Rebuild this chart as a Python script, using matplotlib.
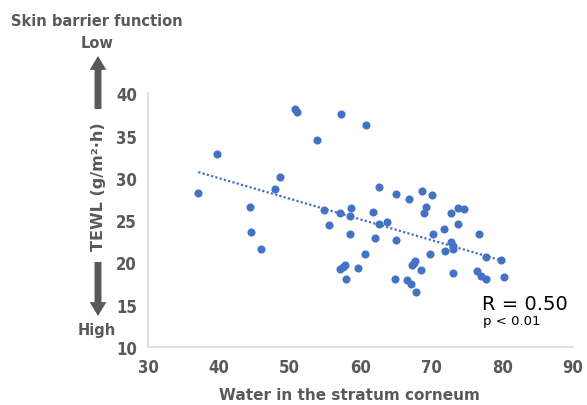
import numpy as np
import matplotlib
matplotlib.use('Agg')
import matplotlib.pyplot as plt

# ---------------------------------------------
#  Data
# ---------------------------------------------
water = [37.1, 39.8, 44.4, 44.6, 46.0, 47.9, 48.6, 50.8, 51.0, 53.9,
         57.3, 60.8, 54.8, 57.1, 58.7, 58.5, 55.6, 58.5, 60.7, 57.1,
         57.5, 57.8, 59.7, 58.0, 64.9, 66.6, 67.1, 67.8, 67.3, 67.5,
         67.7, 68.6, 69.8, 62.6, 65.0, 66.8, 68.7, 70.1, 69.2, 69.0,
         72.8, 73.7, 74.6, 73.7, 71.8, 76.8, 70.2, 72.8, 73.0, 73.1,
         72.0, 73.0, 77.7, 79.8, 80.3, 76.5, 77.0, 77.7, 65.0, 62.0,
         61.7, 62.6, 63.7]
tewl = [28.2, 32.8, 26.6, 23.6, 21.6, 28.7, 30.1, 38.2, 37.8, 34.5,
        37.5, 36.3, 26.2, 25.9, 26.4, 25.5, 24.4, 23.4, 21.0, 19.2,
        19.5, 19.7, 19.3, 18.0, 18.0, 17.9, 17.4, 16.5, 19.7, 19.9,
        20.2, 19.1, 21.0, 28.9, 28.1, 27.5, 28.4, 28.0, 26.5, 25.8,
        25.9, 26.4, 26.3, 24.5, 24.0, 23.4, 23.4, 22.4, 22.0, 21.6,
        21.4, 18.8, 20.7, 20.3, 18.3, 19.0, 18.4, 18.0, 22.6, 22.9,
        26.0, 24.5, 24.8]

x_ticks = [30, 40, 50, 60, 70, 80, 90]
y_ticks = [10, 15, 20, 25, 30, 35, 40]

blue = '#4472C4'
grey = '#595959'

# ---------------------------------------------
#  Figure
# ---------------------------------------------
fig = plt.figure(figsize=(5.87, 4.06), dpi=100)
ax = fig.add_axes([0.2521, 0.1429, 0.7240, 0.6248])

ax.scatter(water, tewl, s=34, color=blue, zorder=3, linewidths=0)

# linear trend line (dotted)
coef = np.polyfit(water, tewl, 1)
xs = np.array([min(water), max(water)])
ax.plot(xs, np.polyval(coef, xs), linestyle=(0, (1, 1)), color=blue, linewidth=1.6)

ax.set_xlim(30, 90)
ax.set_ylim(10, 40)
ax.set_xticks(x_ticks)
ax.set_yticks(y_ticks)
ax.tick_params(length=0, colors=grey)
ax.tick_params(axis='x', pad=8)
ax.tick_params(axis='y', pad=8)
for lab in ax.get_xticklabels() + ax.get_yticklabels():
    lab.set_family('DejaVu Sans')
    lab.set_stretch('condensed')
    lab.set_fontweight('bold')
    lab.set_fontsize(12)
    lab.set_color(grey)

for side in ['top', 'right']:
    ax.spines[side].set_visible(False)
for side in ['left', 'bottom']:
    ax.spines[side].set_color('#D9D9D9')
    ax.spines[side].set_linewidth(1.2)

# ---------------------------------------------
#  Labels and arrows
# ---------------------------------------------
fig.text(0.596, 0.025, 'Water in the stratum corneum', ha='center', va='center',
         fontsize=11, fontweight='bold', color=grey)
fig.text(0.167, 0.539, 'TEWL (g/m²·h)', rotation=90, ha='center', va='center',
         fontsize=11.5, fontweight='bold', color=grey)
fig.text(0.165, 0.946, 'Skin barrier function', ha='center', va='center',
         fontsize=10.5, fontweight='bold', color=grey)
fig.text(0.165, 0.892, 'Low', ha='center', va='center',
         fontsize=10.5, fontweight='bold', color=grey)
fig.text(0.165, 0.185, 'High', ha='center', va='center',
         fontsize=10.5, fontweight='bold', color=grey)

arrow = dict(width=5, headwidth=12, headlength=10, facecolor=grey, edgecolor='none')
fig.add_artist(plt.Annotation('', xy=(98, 349), xytext=(98, 296),
                              xycoords='figure pixels', arrowprops=arrow))
fig.add_artist(plt.Annotation('', xy=(98, 89), xytext=(98, 143),
                              xycoords='figure pixels', arrowprops=arrow))

fig.text(0.821, 0.249, 'R = 0.50', ha='left', va='center', fontsize=14, color='black')
fig.text(0.823, 0.207, 'p < 0.01', ha='left', va='center', fontsize=9.5, color='black')

fig.savefig('out.png', dpi=100)
